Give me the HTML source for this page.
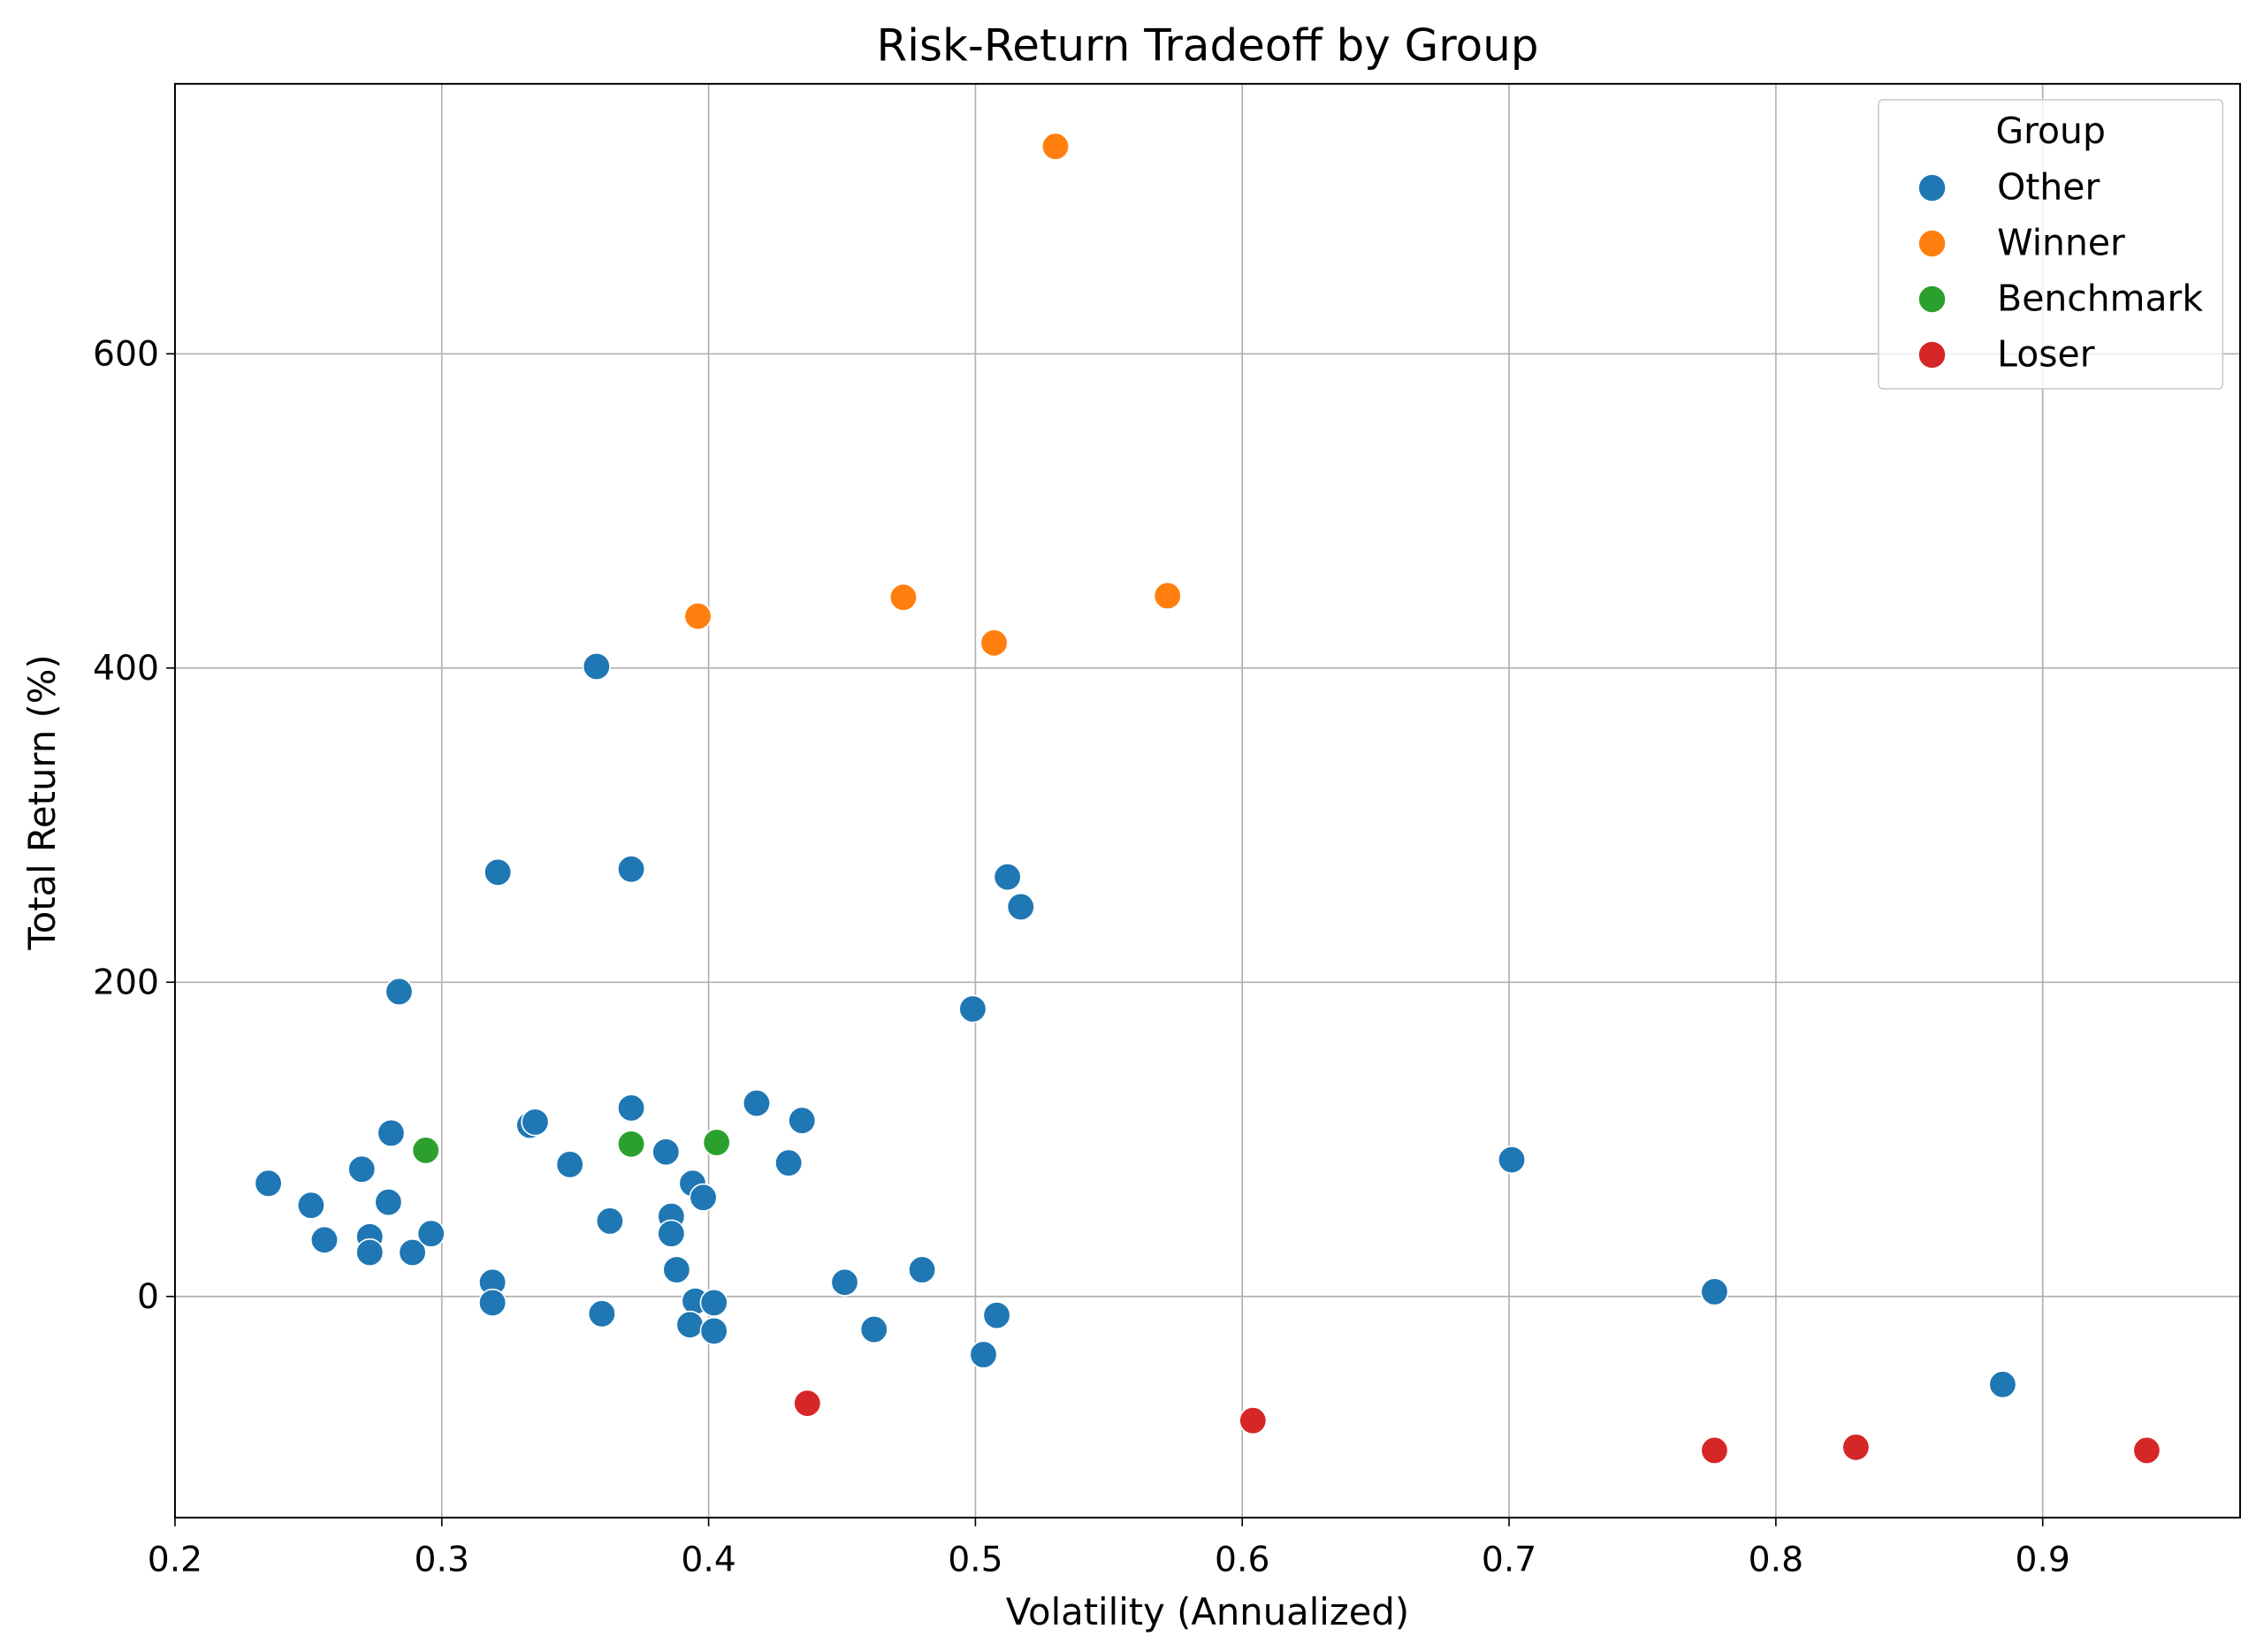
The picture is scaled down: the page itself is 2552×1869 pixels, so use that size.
<!DOCTYPE html>
<html><head><meta charset="utf-8"><style>html,body{margin:0;padding:0;background:#fff}svg{display:block}text{font-family:"DejaVu Sans","Liberation Sans",sans-serif;fill:#000}</style></head>
<body>
<svg id="chart" width="2552" height="1869" viewBox="0 0 1560 1143" preserveAspectRatio="none" xmlns="http://www.w3.org/2000/svg">
<rect x="0" y="0" width="1560" height="1143" fill="#fff"/>
<text x="835" y="42" font-size="30.5" text-anchor="middle">Risk-Return Tradeoff by Group</text>
<g id="grid"></g>
<g id="points"></g>
<rect x="121" y="58" width="1428" height="992" fill="none" stroke="#000" stroke-width="1.2"/>
<g id="ticks"></g>
<text x="835" y="1124" font-size="25.5" text-anchor="middle">Volatility (Annualized)</text>
<text x="0" y="0" font-size="25.5" text-anchor="middle" transform="translate(38,555) rotate(-90)">Total Return (%)</text>
<g>
<rect x="1299" y="69" width="238" height="200" rx="3" fill="#fff" fill-opacity="0.8" stroke="#ccc"/>
<text x="1418" y="99" font-size="25" text-anchor="middle">Group</text>
<g id="legend-entries"></g>
</g>
</svg>
<script>
const otherVol=[0.235,0.251,0.256,0.270,0.273,0.273,0.280,0.281,0.284,0.289,0.296,0.319,0.319,0.321,0.333,0.335,0.348,0.358,0.360,0.363,0.371,0.371,0.384,0.386,0.386,0.388,0.394,0.395,0.393,0.398,0.402,0.402,0.418,0.430,0.435,0.451,0.462,0.480,0.499,0.503,0.508,0.512,0.517,0.701,0.777,0.885];
const otherRet=[72,58,36,81,38,28,60,104,194,28,40,9,-4,270,109,111,84,401,-11,48,272,120,92,51,40,17,72,-3,-18,63,-4,-22,123,85,112,9,-21,17,183,-37,-12,267,248,87,3,-56];
const winnerVol=[0.530,0.396,0.473,0.507,0.572];
const winnerRet=[732,433,445,416,446];
const benchVol=[0.294,0.371,0.403];
const benchRet=[93,97,98];
const loserVol=[0.437,0.604,0.777,0.830,0.939];
const loserRet=[-68,-79,-98,-96,-98];
const xTicks=[0.2,0.3,0.4,0.5,0.6,0.7,0.8,0.9];
const yTicks=[0,200,400,600];
const groupNames=["Other","Winner","Benchmark","Loser"];
const groupColors=["#1f77b4","#ff7f0e","#2ca02c","#d62728"];

const NS="http://www.w3.org/2000/svg";
const X=v=>121+(v-0.2)*1845;
const Y=r=>897-r*1.087;
function mk(tag,attrs,parent){const e=document.createElementNS(NS,tag);for(const k in attrs)e.setAttribute(k,attrs[k]);parent.appendChild(e);return e;}
const grid=document.getElementById('grid'),ticks=document.getElementById('ticks'),pts=document.getElementById('points'),leg=document.getElementById('legend-entries');
xTicks.forEach(t=>{
  const g=mk('line',{x1:X(t),x2:X(t),y1:58,y2:1050,stroke:'#b0b0b0','stroke-width':1},grid);
  
  
  mk('line',{x1:X(t),x2:X(t),y1:1050,y2:1056,stroke:'#000'},ticks);
  const tx=mk('text',{x:X(t),y:1087,'font-size':24,'text-anchor':'middle'},ticks);
  tx.textContent=t.toFixed(1);
  
  
});
yTicks.forEach(t=>{
  const g=mk('line',{x1:121,x2:1549,y1:Y(t),y2:Y(t),stroke:'#b0b0b0','stroke-width':1},grid);
  
  
  mk('line',{x1:115,x2:121,y1:Y(t),y2:Y(t),stroke:'#000'},ticks);
  const tx=mk('text',{x:110,y:Y(t)+8,'font-size':24,'text-anchor':'end'},ticks);
  tx.textContent=String(t);
  
  
});
const series=[[otherVol,otherRet],[winnerVol,winnerRet],[benchVol,benchRet],[loserVol,loserRet]];
series.forEach((s,gi)=>{
  s[0].forEach((v,i)=>{
    const c=mk('circle',{cx:X(v),cy:Y(s[1][i]),r:9.3,fill:groupColors[gi],stroke:'#fff','stroke-width':1},pts);
    
    
  });
});
groupNames.forEach((n,i)=>{
  const y=130+i*38.5;
  const c=mk('circle',{cx:1336,cy:y,r:9,fill:groupColors[i]},leg);
  
  
  const t=mk('text',{x:1381,y:y+8,'font-size':25},leg);
  t.textContent=n;
  
  
});
</script>
</body></html>
